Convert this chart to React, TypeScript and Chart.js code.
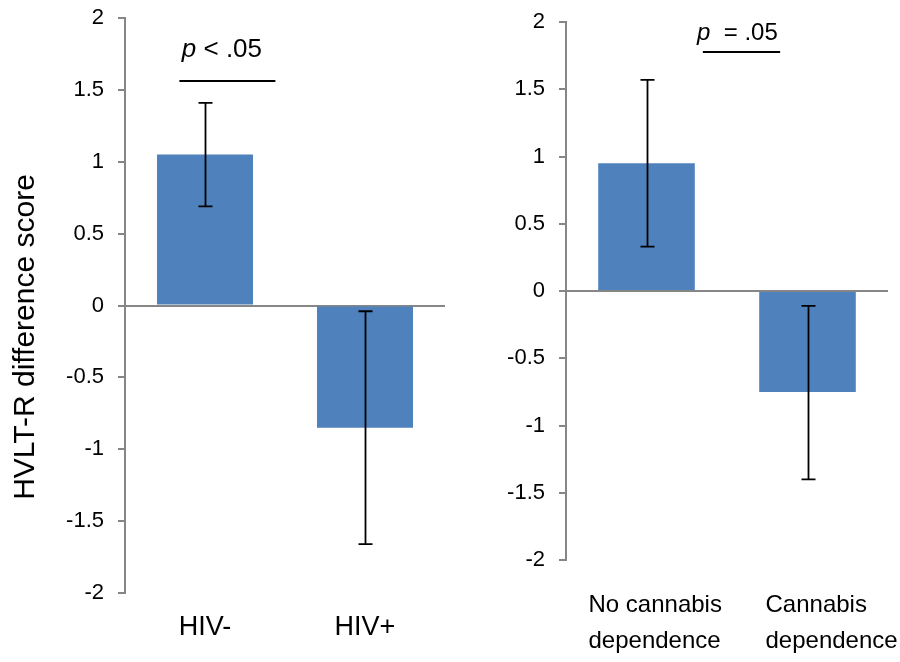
import React, { useEffect, useRef } from 'react';
import { Chart, registerables } from 'chart.js';

Chart.register(...registerables);

// ---- data ----
const leftCategories = ['HIV-', 'HIV+'];
const leftValues = [1.05, -0.85];
const leftErrLow = [0.69, -1.66];
const leftErrHigh = [1.41, -0.04];

const rightCategories = [['No cannabis', 'dependence'], ['Cannabis', 'dependence']];
const rightValues = [0.95, -0.75];
const rightErrLow = [0.33, -1.4];
const rightErrHigh = [1.57, -0.11];

const yMin = -2;
const yMax = 2;
const yStep = 0.5;

const yTitle = 'HVLT-R difference score';
const leftSigText = ['p', ' < .05'];
const rightSigText = ['p', '  = .05'];

// ---- styles ----
const FONT = "'Liberation Sans', Arial, sans-serif";
const BAR = '#4F81BD';
const AXIS = '#868686';

const errorBarPlugin = {
  id: 'errorBars',
  afterDatasetsDraw(chart: any, _args: any, opts: any) {
    const { ctx } = chart;
    const y = chart.scales.y;
    const meta = chart.getDatasetMeta(0);
    ctx.save();
    ctx.strokeStyle = '#000';
    ctx.lineWidth = 1.8;
    opts.low.forEach((lo: number, i: number) => {
      const px = Math.round(meta.data[i].x) + 0.5;
      const yl = y.getPixelForValue(lo);
      const yh = y.getPixelForValue(opts.high[i]);
      ctx.beginPath();
      ctx.moveTo(px, yl);
      ctx.lineTo(px, yh);
      ctx.moveTo(px - opts.cap, yl);
      ctx.lineTo(px + opts.cap, yl);
      ctx.moveTo(px - opts.cap, yh);
      ctx.lineTo(px + opts.cap, yh);
      ctx.stroke();
    });
    ctx.restore();
  },
};

const sigPlugin = {
  id: 'sig',
  afterDraw(chart: any, _args: any, opts: any) {
    const { ctx } = chart;
    const x = chart.scales.x;
    const y = chart.scales.y;
    ctx.save();
    ctx.strokeStyle = '#000';
    ctx.lineWidth = 2;
    const ly = Math.round(y.getPixelForValue(opts.lineLevel));
    ctx.beginPath();
    ctx.moveTo(x.getPixelForValue(opts.lineFrom), ly);
    ctx.lineTo(x.getPixelForValue(opts.lineTo), ly);
    ctx.stroke();
    ctx.fillStyle = '#000';
    ctx.textBaseline = 'alphabetic';
    ctx.textAlign = 'left';
    let tx = x.getPixelForValue(opts.textAt);
    const ty = y.getPixelForValue(opts.textLevel);
    ctx.font = `italic ${opts.size}px ${FONT}`;
    ctx.fillText(opts.text[0], tx, ty);
    tx += ctx.measureText(opts.text[0]).width;
    ctx.font = `${opts.size}px ${FONT}`;
    ctx.fillText(opts.text[1], tx, ty);
    ctx.restore();
  },
};

const titlePlugin = {
  id: 'yTitleCustom',
  afterDraw(chart: any, _args: any, opts: any) {
    if (!opts || !opts.text) return;
    const { ctx, chartArea } = chart;
    ctx.save();
    ctx.fillStyle = '#000';
    ctx.font = `${opts.size}px ${FONT}`;
    ctx.textAlign = 'center';
    ctx.textBaseline = 'middle';
    ctx.translate(opts.x, (chartArea.top + chart.height) / 2 - 3);
    ctx.rotate(-Math.PI / 2);
    ctx.fillText(opts.text, 0, 0);
    ctx.restore();
  },
};

// left-aligned, wrapped category labels (used by the right panel)
const wrappedLabelsPlugin = {
  id: 'wrappedLabels',
  afterDraw(chart: any, _args: any, opts: any) {
    if (!opts || !opts.shift) return;
    const { ctx, chartArea } = chart;
    const x = chart.scales.x;
    const labels = chart.data.labels;
    ctx.save();
    ctx.fillStyle = '#000';
    ctx.font = `${opts.size}px ${FONT}`;
    ctx.textAlign = 'left';
    ctx.textBaseline = 'alphabetic';
    labels.forEach((lab: any, i: number) => {
      const lines = Array.isArray(lab) ? lab : [lab];
      const lx = x.getPixelForValue(i) + opts.shift[i];
      lines.forEach((ln: string, j: number) => {
        ctx.fillText(ln, lx, chartArea.bottom + opts.firstBaseline + j * opts.lineGap);
      });
    });
    ctx.restore();
  },
};

function makeConfig(p: any) {
  return {
    type: 'bar',
    data: {
      labels: p.labels,
      datasets: [
        {
          data: p.values,
          backgroundColor: BAR,
          borderWidth: 0,
          categoryPercentage: 1,
          barPercentage: 0.6,
        },
      ],
    },
    plugins: [errorBarPlugin, sigPlugin, titlePlugin, wrappedLabelsPlugin],
    options: {
      responsive: false,
      animation: false,
      devicePixelRatio: 1,
      layout: { padding: { top: p.top, right: p.right, left: 0, bottom: 0 } },
      plugins: {
        legend: { display: false },
        tooltip: { enabled: false },
        errorBars: { low: p.low, high: p.high, cap: 7 },
        sig: p.sig,
        yTitleCustom: p.title,
        wrappedLabels: p.wrapped,
      },
      scales: {
        x: {
          grid: { display: false, drawTicks: false },
          border: { display: false },
          ticks: {
            display: p.xTicksShown,
            color: '#000',
            font: { family: FONT, size: p.xFont, lineHeight: 1.2 },
            padding: p.xPad,
            maxRotation: 0,
            minRotation: 0,
            autoSkip: false,
          },
          afterFit(scale: any) {
            scale.height = p.xHeight;
            scale.paddingLeft = 0;
            scale.paddingRight = 0;
          },
        },
        y: {
          min: yMin,
          max: yMax,
          border: { display: true, color: AXIS, width: 2 },
          grid: {
            color: (c: any) => (c.tick && c.tick.value === 0 ? AXIS : 'rgba(0,0,0,0)'),
            tickColor: AXIS,
            lineWidth: 2,
            tickLength: 7,
            drawTicks: true,
          },
          ticks: {
            stepSize: yStep,
            color: '#000',
            padding: 14,
            font: { family: FONT, size: 22 },
            callback: (v: any) => String(Math.round(Number(v) * 10) / 10),
          },
          afterFit(scale: any) {
            scale.width = p.yWidth;
            scale.paddingTop = 0;
            scale.paddingBottom = 0;
          },
        },
      },
    },
  };
}

function Panel({ left, params }: any) {
  const ref = useRef<HTMLCanvasElement>(null);
  useEffect(() => {
    const chart = new Chart(ref.current as HTMLCanvasElement, makeConfig(params) as any);
    return () => chart.destroy();
  }, []);
  return (
    <div style={{ position: 'absolute', left, top: 0, width: 450, height: 662 }}>
      <canvas ref={ref} width={450} height={662} style={{ display: 'block' }} />
    </div>
  );
}

export default function App() {
  const leftParams = {
    labels: leftCategories,
    values: leftValues,
    low: leftErrLow,
    high: leftErrHigh,
    top: 18,
    right: 5,
    yWidth: 125,
    xHeight: 69,
    xFont: 27,
    xPad: 18,
    xTicksShown: true,
    sig: { text: leftSigText, size: 26, lineLevel: 1.56, lineFrom: -0.16, lineTo: 0.44, textAt: -0.145, textLevel: 1.73 },
    title: { text: yTitle, size: 30, x: 26 },
    wrapped: null,
  };
  const rightParams = {
    labels: rightCategories,
    values: rightValues,
    low: rightErrLow,
    high: rightErrHigh,
    top: 22,
    right: 12,
    yWidth: 116,
    xHeight: 102,
    xFont: 24,
    xPad: 29,
    xTicksShown: false,
    sig: { text: rightSigText, size: 24, lineLevel: 1.775, lineFrom: 0.35, lineTo: 0.83, textAt: 0.314, textLevel: 1.863 },
    title: null,
    wrapped: { size: 24, shift: [-58, -42], firstBaseline: 52, lineGap: 36 },
  };
  return (
    <div style={{ position: 'absolute', left: 0, top: 0, width: 900, height: 662, background: '#fff' }}>
      <Panel left={0} params={leftParams} />
      <Panel left={450} params={rightParams} />
    </div>
  );
}
